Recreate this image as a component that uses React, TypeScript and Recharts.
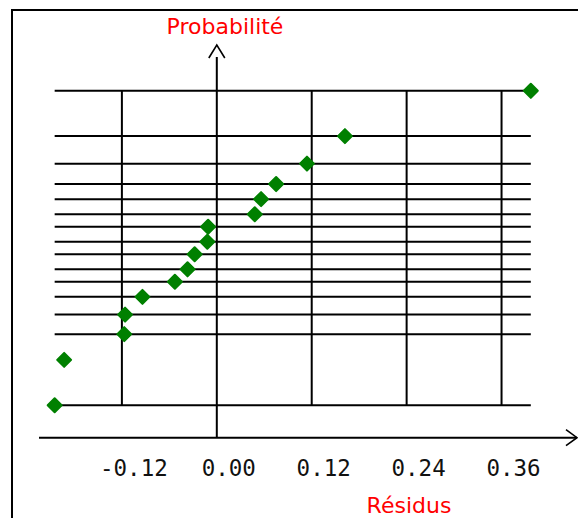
import { ScatterChart, Scatter, XAxis, YAxis, ReferenceLine, ReferenceDot } from 'recharts'

// résidus triés (abscisses) et quantiles normaux associés (ordonnées)
const residus = [-0.205, -0.193, -0.117, -0.116, -0.094, -0.053, -0.037, -0.028, -0.012, -0.011, 0.048, 0.056, 0.075, 0.114, 0.162, 0.397]
const quantiles = [-1.77, -1.26, -0.97, -0.75, -0.55, -0.38, -0.24, -0.07, 0.07, 0.24, 0.38, 0.55, 0.72, 0.95, 1.26, 1.77]
// niveaux de probabilité tracés en lignes horizontales
const gridLevels = [-1.77, -0.97, -0.75, -0.55, -0.38, -0.24, -0.07, 0.07, 0.24, 0.38, 0.55, 0.72, 0.95, 1.26, 1.77]
const xTicks = [-0.12, 0, 0.12, 0.24, 0.36]

const xDomain = [-0.2248, 0.4554]
const yDomain = [-2.136, 2.286]
const yAxisTop = 2.151

const points = residus.map((x, i) => ({ x, y: quantiles[i] }))
const xMin = Math.min(...residus)
const xMax = Math.max(...residus)
const yLow = Math.min(...gridLevels)
const yHigh = Math.max(...gridLevels)

const ink = '#000'

function Diamond(props: any) {
  const { cx, cy } = props
  const r = 7
  return (
    <polygon
      points={`${cx},${cy - r} ${cx + r},${cy} ${cx},${cy + r} ${cx - r},${cy}`}
      fill="#008000"
      stroke="#008000"
      strokeWidth={2}
      strokeLinejoin="round"
    />
  )
}

function XTick(props: any) {
  const { x, payload } = props
  return (
    <text x={x + 12} y={476} textAnchor="middle" fontFamily="DejaVu Sans Mono" fontSize={22.5} fill="#111">
      {Number(payload.value).toFixed(2)}
    </text>
  )
}

function UpArrow(props: any) {
  const { cx, cy } = props
  return <path d={`M${cx - 8},${cy + 13} L${cx},${cy} L${cx + 8},${cy + 13}`} fill="none" stroke={ink} strokeWidth={1.6} />
}

function RightArrow(props: any) {
  const { cx, cy } = props
  return <path d={`M${cx - 11},${cy - 8} L${cx},${cy} L${cx - 11},${cy + 8}`} fill="none" stroke={ink} strokeWidth={1.6} />
}

export default function App() {
  return (
    <div style={{ position: 'fixed', left: 0, top: 0, width: 578, height: 518, overflow: 'hidden', background: '#fff' }}>
      <div
        style={{
          position: 'absolute',
          left: 11,
          top: 9,
          width: 700,
          height: 700,
          borderLeft: '2px solid #000',
          borderTop: '2px solid #000',
        }}
      />
      <div style={{ position: 'absolute', left: 0, top: 0 }}>
        <ScatterChart width={578} height={518} margin={{ top: 45, right: 1, bottom: 20.3, left: 39 }}>
          <XAxis
            type="number"
            dataKey="x"
            domain={xDomain}
            allowDataOverflow
            ticks={xTicks}
            interval={0}
            tickLine={false}
            axisLine={{ stroke: ink, strokeWidth: 2 }}
            tick={<XTick />}
            height={60}
          />
          <YAxis type="number" dataKey="y" domain={yDomain} allowDataOverflow hide />
          {gridLevels.map((lv) => (
            <ReferenceLine
              key={`h${lv}`}
              segment={[{ x: xMin, y: lv }, { x: xMax, y: lv }]}
              stroke={ink}
              strokeWidth={2}
              ifOverflow="visible"
            />
          ))}
          {xTicks
            .filter((t) => t !== 0)
            .map((t) => (
              <ReferenceLine
                key={`v${t}`}
                segment={[{ x: t, y: yLow }, { x: t, y: yHigh }]}
                stroke={ink}
                strokeWidth={2}
                ifOverflow="visible"
              />
            ))}
          <ReferenceLine
            segment={[{ x: 0, y: yDomain[0] }, { x: 0, y: yAxisTop }]}
            stroke={ink}
            strokeWidth={2}
            ifOverflow="visible"
          />
          <ReferenceDot x={0} y={yDomain[1]} ifOverflow="visible" shape={<UpArrow />} />
          <ReferenceDot x={xDomain[1]} y={yDomain[0]} ifOverflow="visible" shape={<RightArrow />} />
          <Scatter data={points} shape={<Diamond />} isAnimationActive={false} />
        </ScatterChart>
      </div>
      <svg width={578} height={518} style={{ position: 'absolute', left: 0, top: 0, pointerEvents: 'none' }}>
        <text x={225} y={34} textAnchor="middle" fontFamily="DejaVu Sans" fontSize={22} fill="#ff0000">
          Probabilité
        </text>
        <text x={409} y={513} textAnchor="middle" fontFamily="DejaVu Sans" fontSize={22} fill="#ff0000">
          Résidus
        </text>
      </svg>
    </div>
  )
}
